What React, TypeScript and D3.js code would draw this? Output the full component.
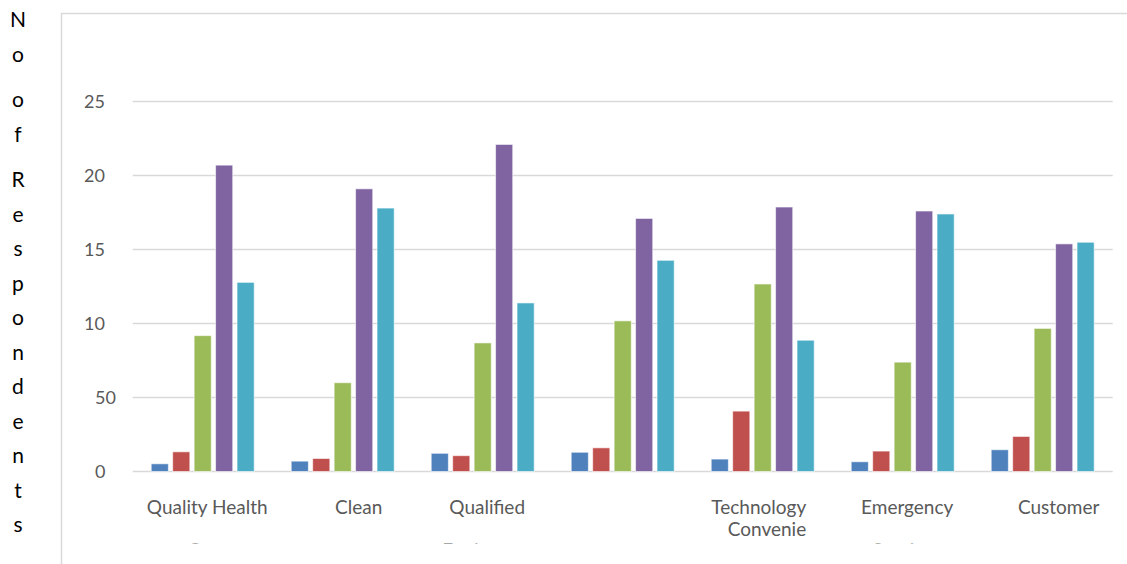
import React from "react";
import * as d3 from "d3";

// Categories (label lines; blank lines keep vertical spacing)
const categories: string[] = [
  "Quality Health Care",
  "Clean",
  "Qualified Equipment",
  "Accessibility",
  "Technology Convenient",
  "Emergency Services",
  "Customer",
];
const categoryLines: string[][] = [
  ["Quality Health", "", "Care"],
  ["Clean"],
  ["Qualified", "", "Equipment"],
  [],
  ["Technology", "Convenie", "nt"],
  ["Emergency", "", "Services"],
  ["Customer"],
];

const seriesNames = ["S1", "S2", "S3", "S4", "S5"];
const seriesColors = ["#4F81BD", "#C0504D", "#9BBB59", "#8064A2", "#4BACC6"];

const s1 = [0.52, 0.7, 1.23, 1.3, 0.84, 0.66, 1.47];
const s2 = [1.33, 0.88, 1.07, 1.6, 4.08, 1.38, 2.37];
const s3 = [9.18, 6.0, 8.69, 10.18, 12.67, 7.39, 9.67];
const s4 = [20.7, 19.1, 22.1, 17.1, 17.87, 17.6, 15.38];
const s5 = [12.78, 17.8, 11.39, 14.27, 8.87, 17.4, 15.49];
const seriesValues = [s1, s2, s3, s4, s5];

const tickValues = [0, 5, 10, 15, 20, 25];
const tickLabels = ["0", "50", "10", "15", "20", "25"];

const axisTitle = "No of Respondents";

const W = 1127;
const H = 564;
const FONT = "Lato, 'Open Sans', sans-serif";

export default function App() {
  const x0 = d3
    .scaleBand<string>()
    .domain(categories)
    .range([132.7, 1112.7])
    .paddingInner(0)
    .paddingOuter(0);
  const bw = x0.bandwidth();
  const x1 = d3
    .scaleBand<string>()
    .domain(seriesNames)
    .range([18.5, bw - 18.5])
    .paddingInner(0.2)
    .paddingOuter(0);
  const y = d3.scaleLinear().domain([0, 25]).range([471.5, 101.5]);

  // vertical stacked title letters
  const letters: { ch: string; y: number }[] = [];
  {
    let pos = 20;
    let first = true;
    const step = 34.5;
    const gap = 11;
    for (const ch of axisTitle) {
      if (ch === " ") {
        pos += gap;
        continue;
      }
      if (!first) pos += step;
      letters.push({ ch, y: pos });
      first = false;
    }
  }

  return (
    <svg
      width={W}
      height={H}
      style={{ position: "absolute", left: 0, top: 0, background: "#fff" }}
      fontFamily={FONT}
    >
      <defs>
        <clipPath id="labelClip">
          <rect x={0} y={0} width={W} height={543.5} />
        </clipPath>
      </defs>
      <rect x={0} y={0} width={W} height={H} fill="#fff" />

      {/* chart frame */}
      <path d={`M61.5,${H} V13.5 H${W}`} fill="none" stroke="#d9d9d9" strokeWidth={1.5} />

      {/* gridlines */}
      {tickValues.map((t) => (
        <line
          key={t}
          x1={x0.range()[0]}
          x2={x0.range()[1]}
          y1={y(t)}
          y2={y(t)}
          stroke="#d9d9d9"
          strokeWidth={1.5}
        />
      ))}

      {/* y tick labels */}
      {tickValues.map((t, i) =>
        t > 5 ? (
          <text
            key={t}
            x={105}
            y={y(t)}
            dy="0.35em"
            textAnchor="end"
            fontSize={18}
            fill="#595959"
          >
            {tickLabels[i]}
          </text>
        ) : (
          <text
            key={t}
            x={95}
            y={y(t)}
            dy="0.35em"
            textAnchor="start"
            fontSize={18}
            fill="#595959"
          >
            {tickLabels[i]}
          </text>
        )
      )}

      {/* bars */}
      {categories.map((c, ci) => (
        <g key={c} transform={`translate(${x0(c)},0)`}>
          {seriesNames.map((s, si) => {
            const v = seriesValues[si][ci];
            return (
              <rect
                key={s}
                x={x1(s)}
                y={y(v)}
                width={x1.bandwidth()}
                height={y(0) - y(v)}
                fill={seriesColors[si]}
                stroke="#ffffff"
                strokeOpacity={0.6}
                strokeWidth={1}
              />
            );
          })}
        </g>
      ))}

      {/* category labels */}
      <g clipPath="url(#labelClip)">
        {categories.map((c, ci) => {
          const lines = categoryLines[ci];
          const single = lines.length === 1;
          const cx = (x0(c) as number) + bw / 2 + (single ? 16 : 4.5);
          const rightAligned = lines.length === 3 && lines[1] !== "";
          return lines.map((ln, li) => (
            <text
              key={`${c}-${li}`}
              x={rightAligned ? cx + 39 : cx}
              y={514 + li * 21.5}
              textAnchor={rightAligned ? "end" : "middle"}
              fontSize={19}
              fill="#595959"
            >
              {ln}
            </text>
          ));
        })}
      </g>

      {/* axis title */}
      {letters.map((l, i) => (
        <text
          key={i}
          x={18}
          y={l.y}
          dy="0.35em"
          textAnchor="middle"
          fontSize={21}
          fill="#000"
        >
          {l.ch}
        </text>
      ))}
    </svg>
  );
}
